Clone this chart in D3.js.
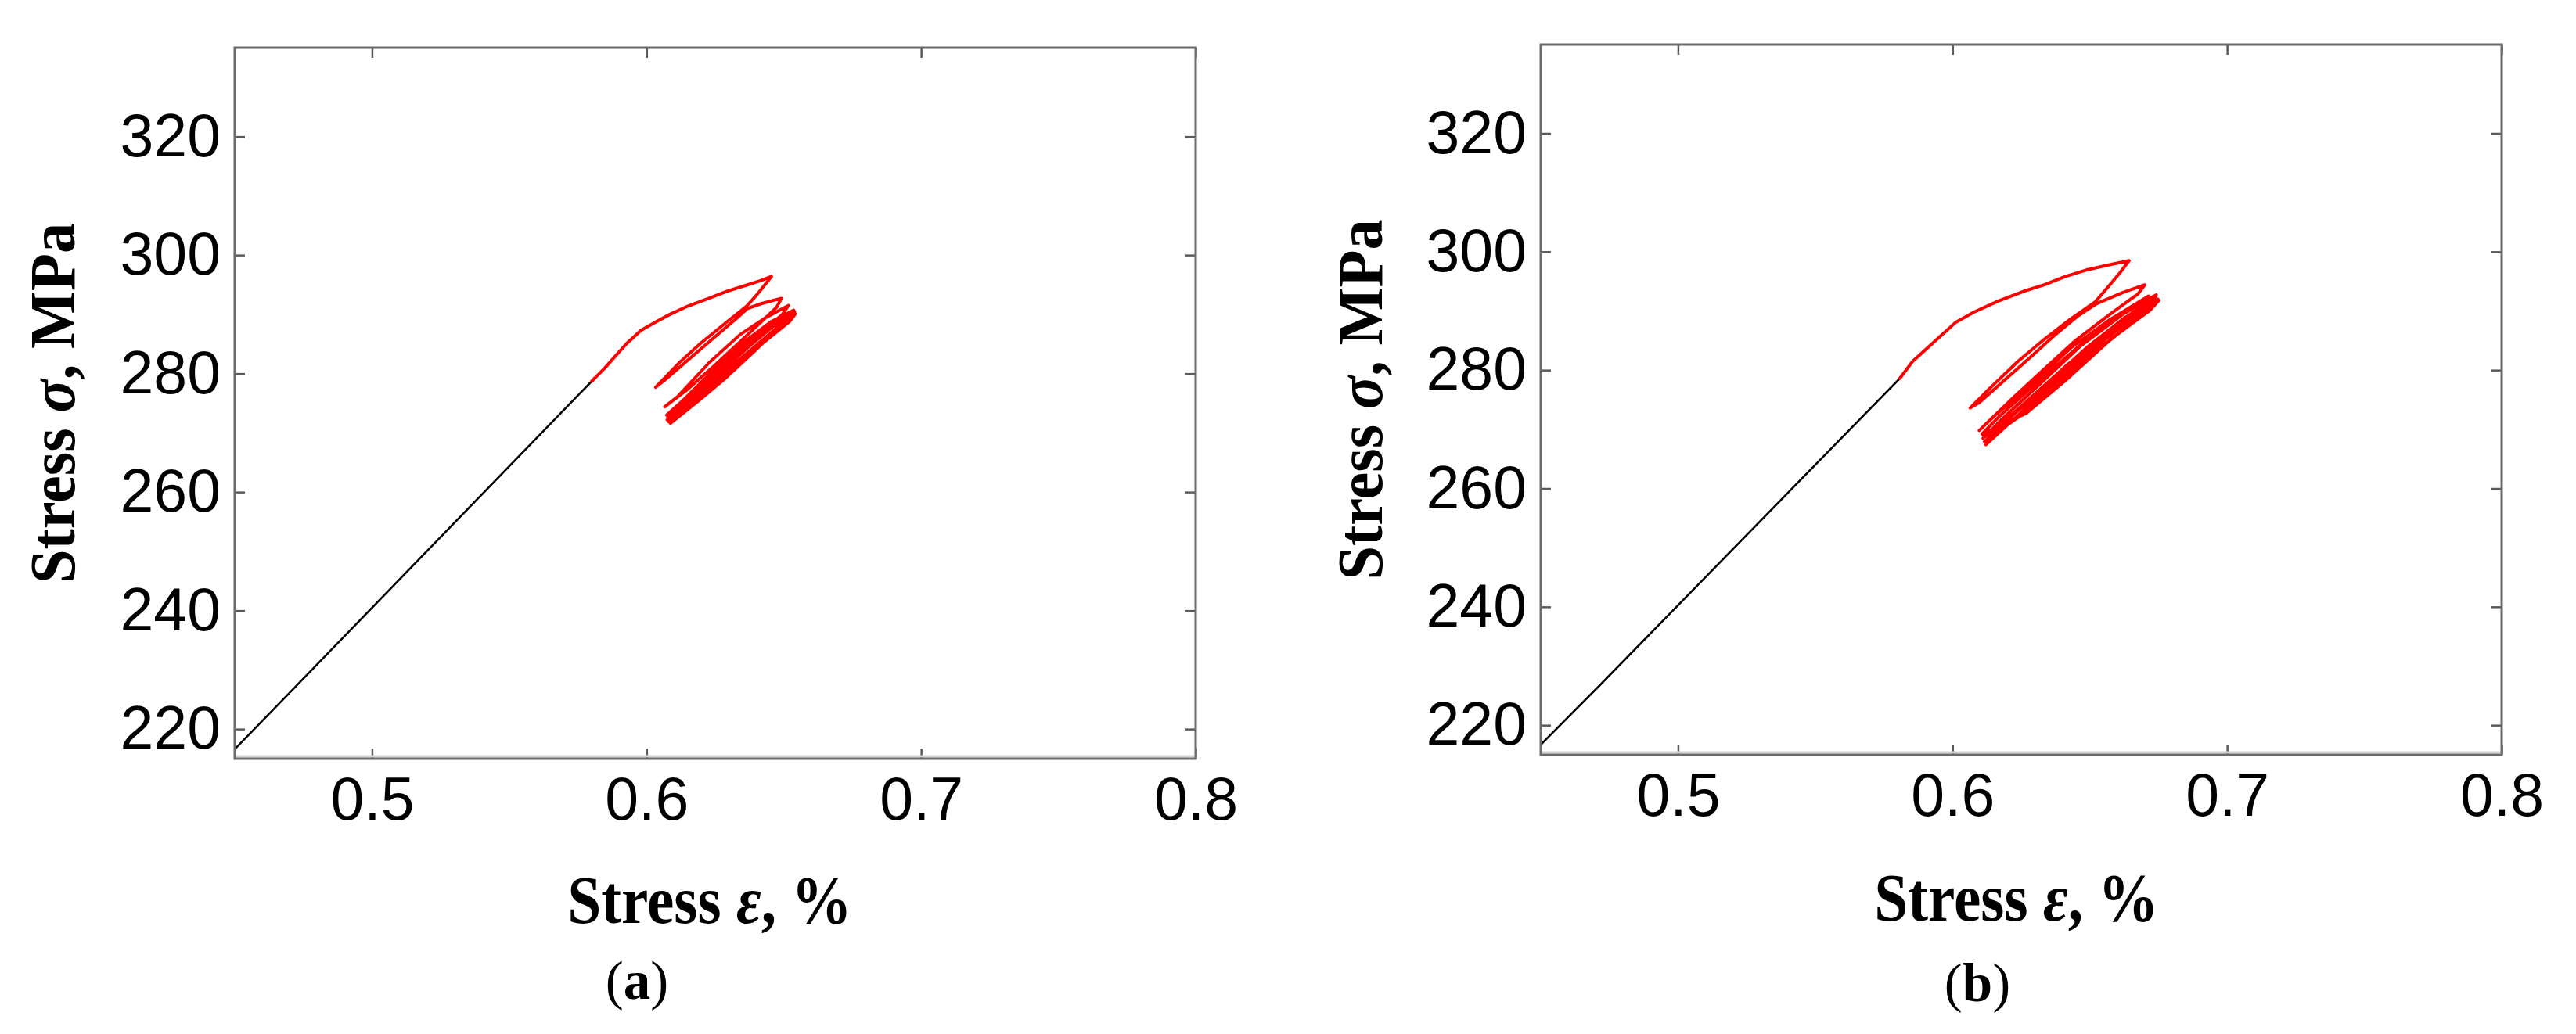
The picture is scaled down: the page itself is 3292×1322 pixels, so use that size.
<!DOCTYPE html>
<html>
<head>
<meta charset="utf-8">
<script src="https://cdn.jsdelivr.net/npm/d3@7"></script>
<style>
  body { margin: 0; background: #fff; }
  svg { display: block; background: #fff; }
  .tick text { font-family: "Liberation Sans", Arial, sans-serif; font-size: 77px; fill: #000; }
  .tick line { stroke: #5a5a5a; stroke-width: 2.5; }
  .title { font-family: "Liberation Serif", "Times New Roman", serif; font-weight: bold; fill: #000; }
  .panel-label { font-family: "Liberation Serif", "Times New Roman", serif; fill: #000; }
</style>
</head>
<body>
<svg width="3292" height="1322"></svg>
<script>
// axis setup
const xDomain = [0.45, 0.8];
const yDomain = [215, 335];
const xTicks = [0.5, 0.6, 0.7, 0.8];
const yTicks = [220, 240, 260, 280, 300, 320];

// (a) elastic part, [strain %, stress MPa]
const elasticA = [[0.45, 216.6], [0.4718, 227.0], [0.58, 278.7]];
// (a) plastic loading + cycles
const plasticA = [
  [0.5800, 278.7], [0.5847, 280.9], [0.5876, 282.4], [0.5928, 285.1], [0.5980, 287.3],
  [0.6037, 288.8], [0.6085, 290.0], [0.6151, 291.4], [0.6227, 292.7], [0.6293, 293.9],
  [0.6369, 295.0], [0.6417, 295.7], [0.6455, 296.4],
  [0.6407, 293.6], [0.6365, 291.4], [0.6284, 288.4], [0.6199, 285.2], [0.6123, 282.0], [0.6033, 277.7],
  [0.6066, 278.9], [0.6151, 282.3], [0.6246, 286.1], [0.6322, 289.1], [0.6368, 291.0],
  [0.6417, 291.8], [0.6491, 292.7],
  [0.6474, 291.2], [0.6369, 286.6], [0.6246, 281.3], [0.6151, 277.4], [0.6066, 274.4],
  [0.6113, 276.1], [0.6227, 281.8], [0.6341, 286.6], [0.6436, 289.5], [0.6517, 291.5],
  [0.6493, 289.9], [0.6379, 285.5], [0.6255, 280.5], [0.6151, 276.1], [0.6073, 273.0],
  [0.6131, 275.4], [0.6246, 280.7], [0.6360, 285.5], [0.6455, 288.8], [0.6536, 290.7],
  [0.6512, 289.0], [0.6398, 284.4], [0.6274, 279.6], [0.6170, 275.2], [0.6080, 271.9],
  [0.6141, 274.8], [0.6255, 280.0], [0.6369, 284.9], [0.6464, 288.2], [0.6542, 290.1],
  [0.6521, 288.8], [0.6417, 284.9], [0.6293, 280.0], [0.6180, 275.6], [0.6085, 272.1],
  [0.6151, 275.2], [0.6265, 280.7], [0.6379, 285.7], [0.6474, 288.8], [0.6538, 290.5],
  [0.6512, 289.2], [0.6407, 285.1], [0.6284, 280.2], [0.6170, 275.8], [0.6077, 272.6],
  [0.6132, 274.8], [0.6236, 279.6], [0.6350, 284.6], [0.6455, 288.2], [0.6533, 290.2],
  [0.6502, 288.7], [0.6398, 284.0], [0.6284, 279.1], [0.6189, 275.4], [0.6087, 271.6],
  [0.6146, 274.3], [0.6255, 279.6], [0.6369, 284.4], [0.6459, 287.9], [0.6529, 289.9],
  [0.6497, 288.4], [0.6388, 283.8], [0.6270, 278.7], [0.6170, 274.8], [0.6075, 272.2]
];

// (b) elastic part
const elasticB = [[0.45, 216.7], [0.4712, 226.6], [0.5808, 278.6]];
// (b) plastic loading + cycles
const plasticB = [
  [0.5808, 278.6], [0.5853, 281.4], [0.5955, 285.7], [0.6012, 288.1], [0.6078, 289.8],
  [0.6163, 291.6], [0.6258, 293.3], [0.6334, 294.4], [0.6410, 295.8], [0.6486, 296.9],
  [0.6562, 297.7], [0.6643, 298.5],
  [0.6609, 296.4], [0.6562, 293.8], [0.6519, 291.5], [0.6429, 288.6], [0.6334, 285.2],
  [0.6239, 281.5], [0.6144, 277.3], [0.6064, 273.6],
  [0.6097, 274.5], [0.6182, 278.0], [0.6277, 281.9], [0.6372, 285.9], [0.6458, 289.2],
  [0.6524, 291.2], [0.6619, 293.1], [0.6700, 294.4],
  [0.6676, 292.9], [0.6572, 289.4], [0.6448, 285.0], [0.6334, 280.2], [0.6220, 275.3], [0.6097, 269.8],
  [0.6163, 272.7], [0.6287, 277.5], [0.6429, 283.7], [0.6572, 288.5], [0.6714, 292.5],
  [0.6685, 290.7], [0.6562, 286.3], [0.6410, 280.6], [0.6268, 274.5], [0.6111, 268.5],
  [0.6182, 271.8], [0.6315, 277.5], [0.6467, 284.1], [0.6619, 289.4], [0.6742, 292.7],
  [0.6714, 290.9], [0.6590, 286.8], [0.6429, 280.6], [0.6277, 274.0], [0.6121, 267.4],
  [0.6201, 271.6], [0.6334, 277.3], [0.6486, 283.7], [0.6628, 288.9], [0.6752, 291.8],
  [0.6719, 290.1], [0.6581, 285.4], [0.6420, 279.3], [0.6258, 272.7], [0.6116, 267.9],
  [0.6192, 271.2], [0.6353, 278.0], [0.6515, 284.6], [0.6647, 289.4], [0.6737, 292.2],
  [0.6705, 290.5], [0.6562, 285.4], [0.6401, 278.9], [0.6248, 272.3], [0.6125, 268.3],
  [0.6211, 272.3], [0.6363, 278.6], [0.6524, 285.0], [0.6657, 289.8], [0.6747, 292.0],
  [0.6714, 290.3], [0.6572, 285.0], [0.6410, 278.2], [0.6268, 272.7], [0.6107, 269.2],
  [0.6173, 272.3], [0.6315, 278.2], [0.6467, 284.3], [0.6609, 289.4], [0.6733, 292.5],
  [0.6704, 290.8], [0.6572, 285.9], [0.6401, 279.3], [0.6239, 273.2], [0.6114, 268.8]
];

const panelLabels = ["a", "b"];

// layout of each panel (pixels)
const panels = [
  { id: "a", left: 300, right: 1528, top: 61, bottom: 970,
    elastic: elasticA, plastic: plasticA,
    yTitleX: 95, xTitleX: 907, xTitleY: 1180, labelX: 814, labelY: 1277 },
  { id: "b", left: 1969, right: 3197, top: 57, bottom: 965,
    elastic: elasticB, plastic: plasticB,
    yTitleX: 1766, xTitleX: 2577, xTitleY: 1177, labelX: 2527, labelY: 1280 }
];

const svg = d3.select("svg");

panels.forEach(function (p, i) {
  let g = svg.append("g").attr("class", "panel-" + p.id);

  let x = d3.scaleLinear().domain(xDomain).range([p.left, p.right]);
  let y = d3.scaleLinear().domain(yDomain).range([p.bottom, p.top]);

  g.append("clipPath")
    .attr("id", "clip-" + p.id)
    .append("rect")
    .attr("x", p.left)
    .attr("y", p.top)
    .attr("width", p.right - p.left)
    .attr("height", p.bottom - p.top);

  let line = d3.line()
    .x((d) => x(d[0]))
    .y((d) => y(d[1]));

  let plot = g.append("g").attr("clip-path", "url(#clip-" + p.id + ")");

  plot.append("path")
    .datum(p.elastic)
    .attr("d", line)
    .attr("fill", "none")
    .attr("stroke", "#000")
    .attr("stroke-width", 2.6);

  plot.append("path")
    .datum(p.plastic)
    .attr("d", line)
    .attr("fill", "none")
    .attr("stroke", "#ff0000")
    .attr("stroke-width", 4)
    .attr("stroke-linejoin", "round")
    .attr("stroke-linecap", "round");

  // axes, ticks pointing inward
  let bottomAxis = g.append("g")
    .attr("transform", `translate(0,${p.bottom})`)
    .call(d3.axisBottom(x).tickValues(xTicks).tickSize(-13).tickPadding(23).tickFormat(d3.format(".1f")));
  let topAxis = g.append("g")
    .attr("transform", `translate(0,${p.top})`)
    .call(d3.axisTop(x).tickValues(xTicks).tickSize(-13).tickFormat(""));
  let leftAxis = g.append("g")
    .attr("transform", `translate(${p.left},0)`)
    .call(d3.axisLeft(y).tickValues(yTicks).tickSize(-13).tickPadding(18));
  let rightAxis = g.append("g")
    .attr("transform", `translate(${p.right},0)`)
    .call(d3.axisRight(y).tickValues(yTicks).tickSize(-13).tickFormat(""));

  [bottomAxis, topAxis, leftAxis, rightAxis].forEach((a) => {
    a.select(".domain").remove();
    a.attr("font-size", null).attr("font-family", null);
  });

  // frame
  g.append("line")
    .attr("x1", p.left).attr("x2", p.right)
    .attr("y1", p.bottom - 3).attr("y2", p.bottom - 3)
    .attr("stroke", "#d4d4d4").attr("stroke-width", 3);
  g.append("rect")
    .attr("x", p.left)
    .attr("y", p.top)
    .attr("width", p.right - p.left)
    .attr("height", p.bottom - p.top)
    .attr("fill", "none")
    .attr("stroke", "#6b6b6b")
    .attr("stroke-width", 3);

  // y title (condensed a little, like the original)
  let yt = g.append("text")
    .attr("class", "title")
    .attr("transform", `translate(${p.yTitleX},${(p.top + p.bottom) / 2}) rotate(-90) scale(0.945,1)`)
    .attr("text-anchor", "middle")
    .attr("font-size", 83);
  yt.append("tspan").text("Stress ");
  yt.append("tspan").attr("font-style", "italic").text("σ");
  yt.append("tspan").text(", MPa");

  // x title
  let xt = g.append("text")
    .attr("class", "title")
    .attr("transform", `translate(${p.xTitleX},${p.xTitleY}) scale(0.9,1)`)
    .attr("text-anchor", "middle")
    .attr("font-size", 86);
  xt.append("tspan").text("Stress ");
  xt.append("tspan").attr("font-style", "italic").text("ε");
  xt.append("tspan").text(", %");

  // panel label
  let lab = g.append("text")
    .attr("class", "panel-label")
    .attr("x", p.labelX)
    .attr("y", p.labelY)
    .attr("text-anchor", "middle")
    .attr("font-size", 69);
  lab.append("tspan").text("(");
  lab.append("tspan").attr("font-weight", "bold").text(panelLabels[i]);
  lab.append("tspan").text(")");
});
</script>
</body>
</html>
